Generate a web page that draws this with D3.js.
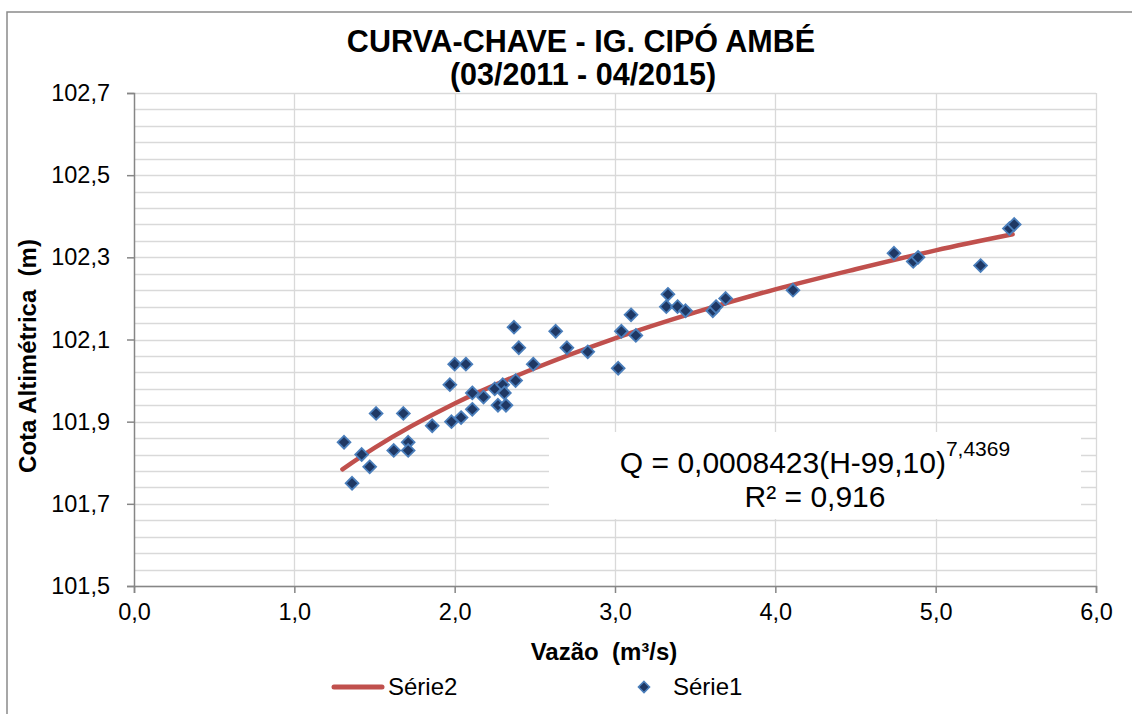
<!DOCTYPE html>
<html><head><meta charset="utf-8">
<script src="https://cdn.jsdelivr.net/npm/d3@7"></script>
<style>
html,body{margin:0;padding:0;background:#fff;}
svg{display:block;font-family:"Liberation Sans",Arial,sans-serif;}
text{white-space:pre;}
</style></head>
<body>
<svg id="chart" width="1132" height="714"></svg>
<script>
// ---- data ----
const vazao = [1.31,1.42,1.36,1.47,1.51,1.62,1.68,1.71,1.71,1.86,1.97,1.98,2.04,2.00,2.07,2.11,2.11,2.18,2.25,2.27,2.30,2.31,2.32,2.38,2.37,2.40,2.49,2.63,2.70,2.83,3.02,3.04,3.10,3.13,3.32,3.33,3.39,3.44,3.61,3.63,3.69,4.11,4.74,4.86,4.89,5.28,5.46,5.49];
const cota = [101.85,101.82,101.75,101.79,101.92,101.83,101.92,101.85,101.83,101.89,101.99,101.90,101.91,102.04,102.04,101.97,101.93,101.96,101.98,101.94,101.99,101.97,101.94,102.00,102.13,102.08,102.04,102.12,102.08,102.07,102.03,102.12,102.16,102.11,102.18,102.21,102.18,102.17,102.17,102.18,102.20,102.22,102.31,102.29,102.30,102.28,102.37,102.38];
const serie2Q = [1.30,1.50,2.00,2.50,3.00,3.50,4.00,4.50,5.00,5.48];
const serie2H = [101.784,101.836,101.944,102.030,102.103,102.166,102.222,102.271,102.317,102.356];
const xTicks = [0,1,2,3,4,5,6];
const yTicks = [101.5,101.7,101.9,102.1,102.3,102.5,102.7];
const titleLines = ["CURVA-CHAVE - IG. CIPÓ AMBÉ","(03/2011 - 04/2015)"];
const xTitle = "Vazão  (m³/s)";
const yTitle = "Cota Altimétrica  (m)";
const legendNames = ["Série2","Série1"];

// ---- layout ----
const svg = d3.select("#chart");
const L = 134, R = 1096, T = 93, B = 586;
const loc = d3.formatLocale({decimal:",", thousands:".", grouping:[3], currency:["",""]});
const fmt1 = loc.format(".1f");

const x = d3.scaleLinear().domain([0,6]).range([L,R]);
const y = d3.scaleLinear().domain([101.5,102.7]).range([B,T]);

// outer chart border
svg.append("rect").attr("x",7).attr("y",12).attr("width",1140).attr("height",720)
  .attr("fill","none").attr("stroke","#8a8a8a").attr("stroke-width",1.5);

// gridlines
const yGrid = d3.range(0,31).map(i => 101.5 + i*0.04);
svg.append("g").selectAll("line").data(yGrid).join("line")
  .attr("x1",L).attr("x2",R).attr("y1",d=>Math.round(y(d))+0.5).attr("y2",d=>Math.round(y(d))+0.5)
  .attr("stroke","#d9d9d9").attr("stroke-width",1.3);
svg.append("g").selectAll("line").data(xTicks.slice(1)).join("line")
  .attr("x1",d=>Math.round(x(d))+0.5).attr("x2",d=>Math.round(x(d))+0.5).attr("y1",T).attr("y2",B)
  .attr("stroke","#d9d9d9").attr("stroke-width",1.3);

// axes
const gx = svg.append("g").attr("transform",`translate(0,${B})`)
  .call(d3.axisBottom(x).tickValues(xTicks).tickSize(7).tickPadding(10).tickFormat(fmt1));
const gy = svg.append("g").attr("transform",`translate(${L},0)`)
  .call(d3.axisLeft(y).tickValues(yTicks).tickSize(7).tickPadding(17).tickFormat(fmt1));
[gx,gy].forEach(g=>{
  g.select(".domain").attr("stroke","#868686").attr("stroke-width",1.5);
  g.selectAll(".tick line").attr("stroke","#868686").attr("stroke-width",1.5);
  g.selectAll(".tick text").attr("fill","#000").style("font-size","23.5px")
    .style("font-family","'Liberation Sans',Arial,sans-serif");
});
gx.selectAll(".tick text").attr("dy","0.71em");

// equation box
svg.append("rect").attr("x",549).attr("y",432).attr("width",532).attr("height",87).attr("fill","#fff");
const eq = svg.append("text").attr("x",815).attr("y",473).attr("text-anchor","middle")
  .style("font-size","30px").attr("fill","#000");
eq.append("tspan").text("Q = 0,0008423(H-99,10)");
eq.append("tspan").attr("dy",-17).style("font-size","21px").text("7,4369");
svg.append("text").attr("x",815).attr("y",507).attr("text-anchor","middle")
  .style("font-size","30px").attr("fill","#000").text("R² = 0,916");

// series 2 curve
const line = d3.line().x((d,i)=>x(serie2Q[i])).y((d,i)=>y(serie2H[i])).curve(d3.curveMonotoneX);
svg.append("path").datum(serie2Q).attr("d",line).attr("fill","none")
  .attr("stroke","#c0504d").attr("stroke-width",4.5).attr("stroke-linecap","round");

// series 1 points
const diamond = s => `M0,${-s}L${s},0L0,${s}L${-s},0Z`;
svg.append("g").selectAll("path").data(vazao).join("path")
  .attr("transform",(d,i)=>`translate(${x(d)},${y(cota[i])})`)
  .attr("d",diamond(6.4)).attr("fill","#1f3864").attr("stroke","#4a7ebb").attr("stroke-width",1.8);

// titles
const tt = svg.append("text").attr("text-anchor","middle").style("font-size","30.5px")
  .style("font-weight","bold").attr("fill","#000");
tt.append("tspan").attr("x",581).attr("y",52).text(titleLines[0]);
tt.append("tspan").attr("x",583).attr("y",85).text(titleLines[1]);

svg.append("text").attr("x",604).attr("y",660).attr("text-anchor","middle")
  .style("font-size","24px").style("font-weight","bold").attr("fill","#000").text(xTitle);
svg.append("text").attr("transform","translate(36,356) rotate(-90)").attr("text-anchor","middle")
  .style("font-size","24px").style("font-weight","bold").attr("fill","#000").text(yTitle);

// legend
svg.append("line").attr("x1",334).attr("x2",382).attr("y1",687).attr("y2",687)
  .attr("stroke","#c0504d").attr("stroke-width",5).attr("stroke-linecap","round");
svg.append("text").attr("x",388).attr("y",695).style("font-size","24px").attr("fill","#000").text(legendNames[0]);
svg.append("path").attr("transform","translate(644,687)").attr("d",diamond(5.5))
  .attr("fill","#1f3864").attr("stroke","#4a7ebb").attr("stroke-width",1.6);
svg.append("text").attr("x",673).attr("y",695).style("font-size","24px").attr("fill","#000").text(legendNames[1]);
</script>
</body></html>
